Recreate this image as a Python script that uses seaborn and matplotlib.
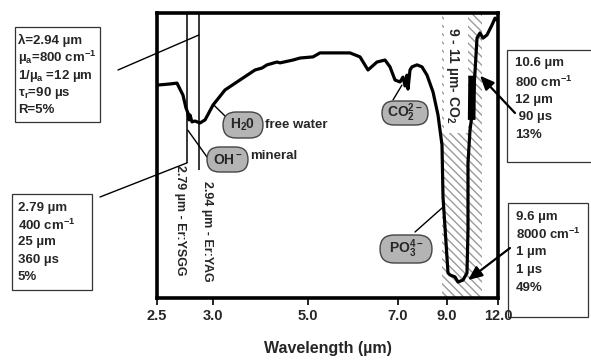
import numpy as np
import pandas as pd
import seaborn as sns
import matplotlib.pyplot as plt
import matplotlib.transforms as mtransforms
from matplotlib.patches import Rectangle, FancyBboxPatch

# spectrum (wavelength in um, relative transmission)
wavelength = [2.5, 2.626, 2.693, 2.751, 2.78, 2.802, 2.815, 2.828, 2.852, 2.89,
              2.944, 2.966, 3.0, 3.253, 3.568, 3.884, 4.032, 4.137, 4.347, 4.411,
              4.684, 4.832, 5.111, 5.267, 5.422, 5.933, 6.156, 6.333, 6.533, 6.711,
              6.822, 6.933, 7.082, 7.204, 7.286, 7.367, 7.408, 7.49, 7.571, 7.776,
              7.98, 8.184, 8.429, 8.633, 8.796, 8.837, 9.059, 9.176, 9.471, 9.647,
              9.941, 10.176, 10.235, 10.235, 10.353, 10.471, 10.647, 10.765, 10.941, 11.118,
              11.353, 11.647, 11.824, 11.941]
transmission = [74.7, 75.1, 75.4, 71.2, 66.7, 64.9, 62.5, 64.2, 61.8, 62.1,
                61.4, 62.5, 67.7, 73.0, 76.5, 80.0, 80.7, 81.8, 82.8, 82.5,
                83.5, 84.2, 84.6, 86.0, 86.0, 86.0, 84.6, 80.0, 82.8, 83.5,
                81.1, 76.5, 75.8, 77.5, 74.4, 78.2, 73.3, 80.0, 81.1, 81.8,
                81.1, 78.2, 72.3, 64.2, 53.7, 35.4, 8.8, 8.1, 7.4, 5.6,
                6.3, 8.8, 23.9, 47.4, 58.9, 64.2, 79.3, 91.2, 93.0, 91.2,
                92.3, 95.8, 98.2, 97.5]

# thick bit of the curve marking the CO2 laser line
co2_wl = [10.45, 10.48]
co2_tr = [62.5, 78.0]

tick_values = [2.5, 3.0, 5.0, 7.0, 9.0, 12.0]
tick_labels = ["2.5", "3.0", "5.0", "7.0", "9.0", "12.0"]

laser_wl = [2.79, 2.94]
laser_bottom = [47.4, 44.9]
laser_names = ["2.79 µm - Er:YSGG", "2.94 µm - Er:YAG"]

band_lo, band_hi = 8.8, 11.06

# the x axis of the original is not linear, piecewise between these knots
knot_wl = [2.5, 2.79, 2.94, 3.0, 5.0, 7.0, 9.0, 12.0]
knot_px = [0, 30, 42, 56, 151, 241, 290, 341]


def fwd(x):
    return np.interp(x, knot_wl, knot_px)


def inv(p):
    return np.interp(p, knot_px, knot_wl)


sns.set_style("white")
plt.rcParams['font.family'] = ['Liberation Sans', 'DejaVu Sans']
plt.rcParams['font.weight'] = 'bold'
plt.rcParams['mathtext.fontset'] = 'custom'
plt.rcParams['mathtext.rm'] = 'Liberation Sans:bold'
plt.rcParams['mathtext.it'] = 'Liberation Sans:bold'
plt.rcParams['mathtext.bf'] = 'Liberation Sans:bold'
plt.rcParams['mathtext.default'] = 'rm'
plt.rcParams['hatch.linewidth'] = 1.0

W, H = 591, 362
fig = plt.figure(figsize=(W / 100, H / 100), dpi=100)
ax = fig.add_axes([157 / W, 1 - 298 / H, 341 / W, 285 / H])
ax.set_xscale('function', functions=(fwd, inv))

# pixel coordinates of the picture, origin top-left
pxT = mtransforms.Affine2D().scale(1, -1).translate(0, H)

df = pd.DataFrame({"wl": wavelength, "tr": transmission})
sns.lineplot(data=df, x="wl", y="tr", sort=False, estimator=None,
             color="black", lw=2.3, ax=ax, zorder=4)
ax.plot(co2_wl, co2_tr, color="black", lw=5.5, solid_capstyle="butt", zorder=5)

# hatched 9-11 um band with a white gap for its label
ax.add_patch(Rectangle((band_lo, 0), band_hi - band_lo, 100, facecolor="none",
                       edgecolor="#9a9a9a", hatch="\\\\\\\\", lw=0, zorder=1))
ax.add_patch(Rectangle((8.88, 57.9), 10.235 - 8.88, 43, facecolor="white",
                       edgecolor="none", zorder=1.5))
ax.text(453, 75, "9 - 11 µm- CO$_2$", transform=pxT, rotation=-90,
        ha="center", va="center", fontsize=10, zorder=6)

# laser lines
ax.vlines(laser_wl, laser_bottom, 100, color="black", lw=1.1, zorder=3)
for xc, yc, name in zip([180, 207], [220, 231], laser_names):
    ax.text(xc, yc, name, transform=pxT, rotation=-90, ha="center",
            va="center", fontsize=9)

ax.set_xlim(2.5, 12.0)
ax.set_ylim(0, 100)
ax.set_yticks([])
ax.set_xticks(tick_values)
ax.set_xticklabels(tick_labels, fontsize=10.5, fontweight="bold")
ax.xaxis.set_minor_locator(plt.NullLocator())
ax.tick_params(axis="x", direction="out", length=5, width=1.2, pad=3,
               bottom=True, color="black")
ax.set_xlabel("Wavelength (µm)", fontsize=11.5, fontweight="bold", labelpad=13)
ax.set_ylabel("")
for s in ax.spines.values():
    s.set_linewidth(2.6)
    s.set_color("black")

# grey pills with the absorbing groups
pills = [("H$_2$0", 223, 112, 40, 26), ("OH$^-$", 207, 147, 41, 25),
         ("CO$_2^{2-}$", 382, 101, 46, 24), ("PO$_3^{4-}$", 380, 235, 52, 28)]
for txt, x0, y0, w, h in pills:
    p = FancyBboxPatch((x0, y0), w, h, boxstyle="round,pad=0,rounding_size=%g" % (h / 2),
                       transform=pxT, facecolor="#b4b4b4", edgecolor="#444444", lw=1)
    fig.add_artist(p)
    fig.text(x0 + w / 2, y0 + h / 2, txt, transform=pxT, ha="center",
             va="center", fontsize=10)
fig.text(265, 125, "free water", transform=pxT, ha="left", va="center", fontsize=9.5)
fig.text(250, 156, "mineral", transform=pxT, ha="left", va="center", fontsize=9.5)

line_kw = dict(arrowstyle="-", color="black", lw=1.0, shrinkA=0, shrinkB=0)
for xy, xyt in [((2.94, 92.3), (118, 70)), ((2.79, 47.4), (100, 197)),
                ((3.0, 68.0), (226, 117)), ((2.80, 58.9), (207, 157)),
                ((7.16, 74.7), (393, 100)), ((8.84, 31.9), (415, 232))]:
    ax.annotate("", xy=xy, xytext=xyt, textcoords=pxT,
                arrowprops=line_kw, annotation_clip=False)

arrow_kw = dict(arrowstyle="-|>,head_length=0.7,head_width=0.3", color="black",
                lw=1.6, shrinkA=0, shrinkB=0, mutation_scale=12)
ax.annotate("", xy=(10.94, 78.0), xytext=(515, 113), textcoords=pxT,
            arrowprops=arrow_kw, annotation_clip=False)
ax.annotate("", xy=(10.235, 6.3), xytext=(510, 248), textcoords=pxT,
            arrowprops=arrow_kw, annotation_clip=False)

# parameter boxes (drawn below the axes so the "12.0" tick label stays visible)
boxes = [
    ((15, 27, 85, 95), 18, [40, 58, 76, 93, 110],
     ["λ=2.94 µm", "µ$_a$=800 cm$^{-1}$", "1/µ$_a$ =12 µm", "τ$_r$=90 µs", "R=5%"]),
    ((12, 194, 80, 96), 18, [208, 225, 242, 260, 277],
     ["2.79 µm", "400 cm$^{-1}$", "25 µm", "360 µs", "5%"]),
    ((507, 50, 90, 112), 515, [63, 82, 100, 117, 135],
     ["10.6 µm", "800 cm$^{-1}$", "12 µm", " 90 µs", "13%"]),
    ((508, 203, 80, 114), 516, [217, 234, 252, 270, 288],
     ["9.6 µm", "8000 cm$^{-1}$", "1 µm", "1 µs", "49%"]),
]
for (x0, y0, w, h), tx, ys, lines in boxes:
    fig.add_artist(Rectangle((x0, y0), w, h, transform=pxT, facecolor="white",
                             edgecolor="#333333", lw=0.9, zorder=-1))
    for yy, s in zip(ys, lines):
        fig.text(tx, yy, s, transform=pxT, ha="left", va="center", fontsize=9.5)

fig.savefig("out.png", dpi=100)
